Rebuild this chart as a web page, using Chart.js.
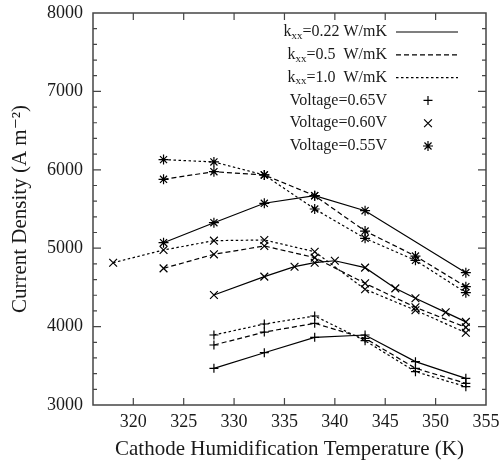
<!DOCTYPE html>
<html lang="en">
<head>
<meta charset="UTF-8">
<title>Current Density vs Cathode Humidification Temperature</title>
<script src="https://cdn.jsdelivr.net/npm/chart.js@4.4.0/dist/chart.umd.min.js"></script>
<style>
  html, body { margin: 0; padding: 0; background: #fff; }
  #wrap { width: 501px; height: 464px; }
</style>
</head>
<body>
<div id="wrap"><canvas id="chart"></canvas></div>
<script>
// --- Data: temperature (K) and current density (A/m^2) per run ---
// Voltage = 0.65 V (plus markers)
const T_065 = [328, 333, 338, 343, 348, 353];
const J_k022_065 = [3468, 3667, 3863, 3893, 3553, 3340];
const J_k05_065 = [3765, 3930, 4042, 3850, 3468, 3277];
const J_k10_065 = [3893, 4033, 4135, 3820, 3425, 3234];

// Voltage = 0.60 V (cross markers)
const T_k022_060 = [328, 333, 336, 338, 340, 343, 346, 348, 351, 353];
const J_k022_060 = [4403, 4637, 4764, 4815, 4840, 4752, 4488, 4361, 4182, 4060];
const T_k05_060 = [323, 328, 333, 338, 343, 348, 353];
const J_k05_060 = [4743, 4922, 5028, 4880, 4552, 4246, 3990];
const T_k10_060 = [318, 323, 328, 333, 338, 343, 348, 353];
const J_k10_060 = [4815, 4977, 5096, 5105, 4955, 4476, 4209, 3922];

// Voltage = 0.55 V (star markers)
const T_k022_055 = [323, 328, 333, 338, 343, 353];
const J_k022_055 = [5070, 5325, 5573, 5670, 5478, 4688];
const T_k05_055 = [323, 328, 333, 338, 343, 348, 353];
const J_k05_055 = [5879, 5976, 5934, 5670, 5219, 4900, 4509];
const T_k10_055 = [323, 328, 333, 338, 343, 348, 353];
const J_k10_055 = [6130, 6100, 5934, 5500, 5126, 4845, 4433];

// Axis ticks
const xTicks = [320, 325, 330, 335, 340, 345, 350, 355];
const yTicks = [3000, 4000, 5000, 6000, 7000, 8000];
const yMinorStep = 200;

// Legend text
const kLabels = ['0.22 W/mK', '0.5  W/mK', '1.0  W/mK'];
const voltageLabels = ['Voltage=0.65V', 'Voltage=0.60V', 'Voltage=0.55V'];

// --- Styles ---
const SERIF = "'Liberation Serif', 'DejaVu Serif', serif";
const TEXT = '#1a1a1a';
const dashSolid = [];
const dashDashed = [5, 3];
const dashDotted = [2.5, 2.5];
const markers = { v065: 'cross', v060: 'crossRot', v055: 'star' };
const markerSize = { cross: 4.5, crossRot: 5.5, star: 5 };

function series(T, J, dash, marker) {
    return {
        data: T.map((t, i) => ({ x: t, y: J[i] })),
        borderColor: '#000',
        borderWidth: 1.2,
        borderDash: dash,
        pointStyle: marker,
        pointRadius: markerSize[marker],
        pointBorderColor: '#000',
        pointBackgroundColor: 'rgba(0,0,0,0)',
        pointBorderWidth: 1.2,
        tension: 0,
        fill: false
    };
}

const datasets = [
    series(T_065, J_k022_065, dashSolid, markers.v065),
    series(T_065, J_k05_065, dashDashed, markers.v065),
    series(T_065, J_k10_065, dashDotted, markers.v065),
    series(T_k022_060, J_k022_060, dashSolid, markers.v060),
    series(T_k05_060, J_k05_060, dashDashed, markers.v060),
    series(T_k10_060, J_k10_060, dashDotted, markers.v060),
    series(T_k022_055, J_k022_055, dashSolid, markers.v055),
    series(T_k05_055, J_k05_055, dashDashed, markers.v055),
    series(T_k10_055, J_k10_055, dashDotted, markers.v055)
];

// Box frame with inward ticks on all four sides
const frameTicks = {
    id: 'frameTicks',
    afterDatasetsDraw(chart) {
        const { ctx, chartArea: a, scales: { x, y } } = chart;
        ctx.save();
        ctx.strokeStyle = '#454545';
        ctx.lineWidth = 1.5;
        ctx.strokeRect(a.left, a.top, a.right - a.left, a.bottom - a.top);
        ctx.lineWidth = 1.2;
        ctx.beginPath();
        xTicks.forEach(v => {
            const px = x.getPixelForValue(v);
            if (px >= a.right - 1) return;
            ctx.moveTo(px, a.bottom); ctx.lineTo(px, a.bottom - 7);
            ctx.moveTo(px, a.top); ctx.lineTo(px, a.top + 7);
        });
        for (let v = y.min + yMinorStep; v < y.max; v += yMinorStep) {
            const py = y.getPixelForValue(v);
            const len = yTicks.includes(v) ? 8 : 4;
            ctx.moveTo(a.left, py); ctx.lineTo(a.left + len, py);
            ctx.moveTo(a.right, py); ctx.lineTo(a.right - len, py);
        }
        ctx.stroke();
        ctx.restore();
    }
};

// Key in the upper right: text right-aligned, sample to its right
const keyBox = {
    id: 'keyBox',
    afterDraw(chart) {
        const { ctx } = chart;
        const textRight = 387;
        const sampleL = 396, sampleR = 458, markX = 428;
        const top = 32, step = 22.8;
        const big = '16px ' + SERIF, small = '11px ' + SERIF;
        ctx.save();
        ctx.fillStyle = TEXT;
        ctx.strokeStyle = '#000';
        ctx.textBaseline = 'middle';
        ctx.textAlign = 'left';
        const dashes = [dashSolid, dashDashed, dashDotted];
        kLabels.forEach((lab, i) => {
            const yy = top + i * step;
            const rest = '=' + lab;
            ctx.font = big;
            const wk = ctx.measureText('k').width;
            const wr = ctx.measureText(rest).width;
            ctx.font = small;
            const wx = ctx.measureText('xx').width;
            let xx = textRight - wk - wx - wr;
            ctx.font = big;
            ctx.fillText('k', xx, yy);
            ctx.font = small;
            ctx.fillText('xx', xx + wk, yy + 4);
            ctx.font = big;
            ctx.fillText(rest, xx + wk + wx, yy);
            ctx.lineWidth = 1.2;
            ctx.setLineDash(dashes[i]);
            ctx.beginPath();
            ctx.moveTo(sampleL, yy); ctx.lineTo(sampleR, yy);
            ctx.stroke();
        });
        ctx.setLineDash([]);
        const styles = [markers.v065, markers.v060, markers.v055];
        voltageLabels.forEach((lab, i) => {
            const yy = top + (i + 3) * step;
            ctx.font = big;
            ctx.textAlign = 'right';
            ctx.fillText(lab, textRight, yy);
            ctx.lineWidth = 1.2;
            Chart.helpers.drawPoint(ctx, {
                pointStyle: styles[i],
                radius: markerSize[styles[i]],
                borderWidth: 1.2,
                rotation: 0
            }, markX, yy);
        });
        ctx.restore();
    }
};

new Chart(document.getElementById('chart'), {
    type: 'line',
    data: { datasets },
    options: {
        responsive: true,
        maintainAspectRatio: false,
        animation: false,
        devicePixelRatio: 1,
        layout: { padding: { top: 13, right: 15, left: 0, bottom: 0 } },
        plugins: { legend: { display: false }, tooltip: { enabled: false } },
        scales: {
            x: {
                type: 'linear',
                min: 316,
                max: 355,
                afterBuildTicks: s => { s.ticks = xTicks.map(v => ({ value: v })); },
                afterFit: s => { s.height = 59; s.paddingLeft = 0; s.paddingRight = 0; },
                grid: { display: false, drawTicks: false },
                border: { display: false },
                ticks: {
                    padding: 6,
                    maxRotation: 0,
                    autoSkip: false,
                    color: TEXT,
                    font: { family: SERIF, size: 18 },
                    callback: v => String(v)
                },
                title: {
                    display: true,
                    text: 'Cathode Humidification Temperature (K)',
                    color: TEXT,
                    font: { family: SERIF, size: 21 },
                    padding: { top: 0, bottom: 2 }
                }
            },
            y: {
                type: 'linear',
                min: 3000,
                max: 8000,
                afterBuildTicks: s => { s.ticks = yTicks.map(v => ({ value: v })); },
                afterFit: s => { s.width = 93; s.paddingTop = 0; s.paddingBottom = 0; },
                grid: { display: false, drawTicks: false },
                border: { display: false },
                ticks: {
                    padding: 10,
                    color: TEXT,
                    font: { family: SERIF, size: 18 },
                    callback: v => String(v)
                },
                title: {
                    display: true,
                    text: 'Current Density (A m\u207B\u00B2)',
                    color: TEXT,
                    font: { family: SERIF, size: 21 },
                    padding: { top: 8, bottom: 0 }
                }
            }
        }
    },
    plugins: [frameTicks, keyBox]
});
</script>
</body>
</html>
